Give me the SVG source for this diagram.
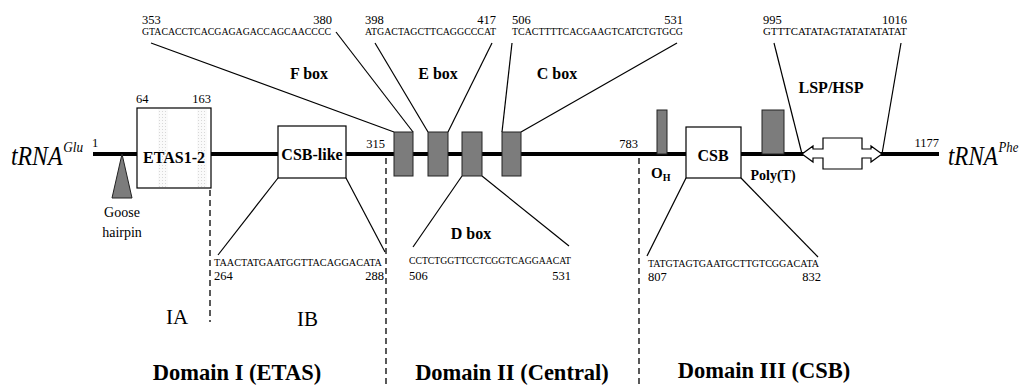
<svg xmlns="http://www.w3.org/2000/svg" width="1023" height="386" viewBox="0 0 1023 386">
<style>
.serif{font-family:"Liberation Serif","Times New Roman",serif;fill:#000}
.num{font-size:12.5px}
.seq{font-size:10px}
.b{font-weight:bold}
.lbl{font-size:16px;font-weight:bold}
.dom{font-size:22.5px;font-weight:bold}
.trna{font-size:27px;font-style:italic}
.sup{font-size:15px}
.ln{stroke:#000;stroke-width:1.2;fill:none}
.dash{stroke:#000;stroke-width:1.3;stroke-dasharray:6,4;fill:none}
.gray{fill:#7c7c7c;stroke:#222;stroke-width:1}
.box{fill:#fff;stroke:#000;stroke-width:1.2}
</style>
<defs>
<pattern id="dots" width="3" height="3" patternUnits="userSpaceOnUse">
<rect width="3" height="3" fill="#fafafa"/>
<rect width="1" height="1" fill="#d8d8d8"/>
</pattern>
</defs>
<rect width="1023" height="386" fill="#fff"/>

<g id="backbone">
<line x1="93" y1="154" x2="939" y2="154" stroke="#000" stroke-width="4"/>
<text class="serif trna" transform="translate(11,165) scale(0.88,1)">tRNA<tspan class="sup" dx="1" dy="-13">Glu</tspan></text>
<text class="serif num" x="92" y="147">1</text>
<text class="serif trna" transform="translate(948,165) scale(0.85,1)">tRNA<tspan class="sup" dx="1" dy="-13">Phe</tspan></text>
<text class="serif num" x="939" y="147" text-anchor="end">1177</text>
</g>

<g id="connectors">
<!-- F box -->
<line class="ln" x1="151" y1="43" x2="394" y2="132"/>
<line class="ln" x1="336" y1="32" x2="413" y2="132"/>
<!-- E box -->
<line class="ln" x1="375" y1="43" x2="428" y2="132"/>
<line class="ln" x1="492" y1="43" x2="448" y2="132"/>
<!-- C box -->
<line class="ln" x1="512" y1="43" x2="502" y2="132"/>
<line class="ln" x1="677" y1="43" x2="521" y2="132"/>
<!-- D box -->
<line class="ln" x1="462" y1="176" x2="413" y2="247"/>
<line class="ln" x1="482" y1="176" x2="569" y2="246"/>
<!-- CSB-like -->
<line class="ln" x1="278" y1="178" x2="218" y2="255"/>
<line class="ln" x1="346" y1="178" x2="385" y2="252"/>
<!-- CSB -->
<line class="ln" x1="686" y1="178" x2="647" y2="256"/>
<line class="ln" x1="741" y1="178" x2="818" y2="257"/>
<!-- LSP/HSP -->
<line class="ln" x1="774" y1="43" x2="802" y2="154"/>
<line class="ln" x1="901" y1="43" x2="882" y2="154"/>
<!-- domain dividers -->
<line class="dash" x1="210" y1="190" x2="210" y2="322"/>
<line class="dash" x1="386" y1="158" x2="386" y2="386"/>
<line class="dash" x1="639" y1="158" x2="639" y2="386"/>
</g>

<g id="goose-hairpin">
<polygon class="gray" points="122,154 112,198 132,198"/>
<text class="serif" x="122" y="217" font-size="14" text-anchor="middle">Goose</text>
<text class="serif" x="122" y="237" font-size="14" text-anchor="middle">hairpin</text>
</g>

<g id="etas">
<rect class="box" x="137" y="108" width="74" height="80"/>
<rect x="158" y="109" width="10" height="78" fill="url(#dots)"/>
<rect x="197" y="109" width="10" height="78" fill="url(#dots)"/>
<text class="serif lbl" x="174" y="163" text-anchor="middle">ETAS1-2</text>
<text class="serif num" x="136" y="103">64</text>
<text class="serif num" x="211" y="103" text-anchor="end">163</text>
</g>

<g id="csb-like">
<rect class="box" x="278" y="126" width="68" height="52"/>
<text class="serif lbl" x="312" y="160" text-anchor="middle">CSB-like</text>
<text class="serif seq" x="214" y="266" textLength="168" lengthAdjust="spacingAndGlyphs">TAACTATGAATGGTTACAGGACATA</text>
<text class="serif num" x="214" y="280">264</text>
<text class="serif num" x="384" y="280" text-anchor="end">288</text>
<text class="serif num" x="385" y="148" text-anchor="end">315</text>
</g>

<g id="f-box">
<rect class="gray" x="394" y="132" width="19" height="44"/>
<text class="serif num" x="142" y="24">353</text>
<text class="serif num" x="332" y="24" text-anchor="end">380</text>
<text class="serif seq" x="142" y="35" textLength="189" lengthAdjust="spacingAndGlyphs">GTACACCTCACGAGAGACCAGCAACCCC</text>
<text class="serif lbl" x="309" y="79" text-anchor="middle">F box</text>
</g>

<g id="e-box">
<rect class="gray" x="428" y="132" width="20" height="44"/>
<text class="serif num" x="365" y="24">398</text>
<text class="serif num" x="496" y="24" text-anchor="end">417</text>
<text class="serif seq" x="365" y="35" textLength="131" lengthAdjust="spacingAndGlyphs">ATGACTAGCTTCAGGCCCAT</text>
<text class="serif lbl" x="438" y="79" text-anchor="middle">E box</text>
</g>

<g id="d-box">
<rect class="gray" x="462" y="132" width="20" height="44"/>
<text class="serif lbl" x="471" y="239" text-anchor="middle">D box</text>
<text class="serif seq" x="409" y="264" textLength="162" lengthAdjust="spacingAndGlyphs">CCTCTGGTTCCTCGGTCAGGAACAT</text>
<text class="serif num" x="409" y="280">506</text>
<text class="serif num" x="571" y="280" text-anchor="end">531</text>
</g>

<g id="c-box">
<rect class="gray" x="502" y="132" width="19" height="44"/>
<text class="serif num" x="512" y="24">506</text>
<text class="serif num" x="683" y="24" text-anchor="end">531</text>
<text class="serif seq" x="512" y="35" textLength="171" lengthAdjust="spacingAndGlyphs">TCACTTTTCACGAAGTCATCTGTGCG</text>
<text class="serif lbl" x="557" y="79" text-anchor="middle">C box</text>
</g>

<g id="oh">
<text class="serif num" x="638" y="148" text-anchor="end">783</text>
<rect class="gray" x="657" y="110" width="10" height="44"/>
<text class="serif b" x="651" y="178" font-size="15">O<tspan font-size="10" dy="3">H</tspan></text>
</g>

<g id="csb">
<rect class="box" x="686" y="127" width="55" height="51"/>
<text class="serif lbl" x="713" y="161" text-anchor="middle">CSB</text>
<text class="serif seq" x="648" y="267" textLength="171" lengthAdjust="spacingAndGlyphs">TATGTAGTGAATGCTTGTCGGACATA</text>
<text class="serif num" x="648" y="281">807</text>
<text class="serif num" x="821" y="281" text-anchor="end">832</text>
</g>

<g id="polyt">
<rect class="gray" x="762" y="110" width="22" height="44"/>
<text class="serif b" x="773" y="180" font-size="14" text-anchor="middle">Poly(T)</text>
</g>

<g id="lsp-hsp">
<polygon class="box" points="802,154 813,146 813,149 823,149 823,138 862,138 862,149 871,149 871,146 882,154 871,162 871,158 862,158 862,169 823,169 823,158 813,158 813,162"/>
<text class="serif num" x="763" y="24">995</text>
<text class="serif num" x="907" y="24" text-anchor="end">1016</text>
<text class="serif seq" x="763" y="35" textLength="144" lengthAdjust="spacingAndGlyphs">GTTTCATATAGTATATATATAT</text>
<text class="serif lbl" x="831" y="93" text-anchor="middle">LSP/HSP</text>
</g>

<g id="domains">
<text class="serif" x="166" y="324" font-size="21">IA</text>
<text class="serif" x="297" y="326" font-size="21">IB</text>
<text class="serif dom" x="237" y="380" text-anchor="middle">Domain I (ETAS)</text>
<text class="serif dom" x="512" y="380" text-anchor="middle">Domain II (Central)</text>
<text class="serif dom" x="764" y="378" text-anchor="middle">Domain III (CSB)</text>
</g>
</svg>
